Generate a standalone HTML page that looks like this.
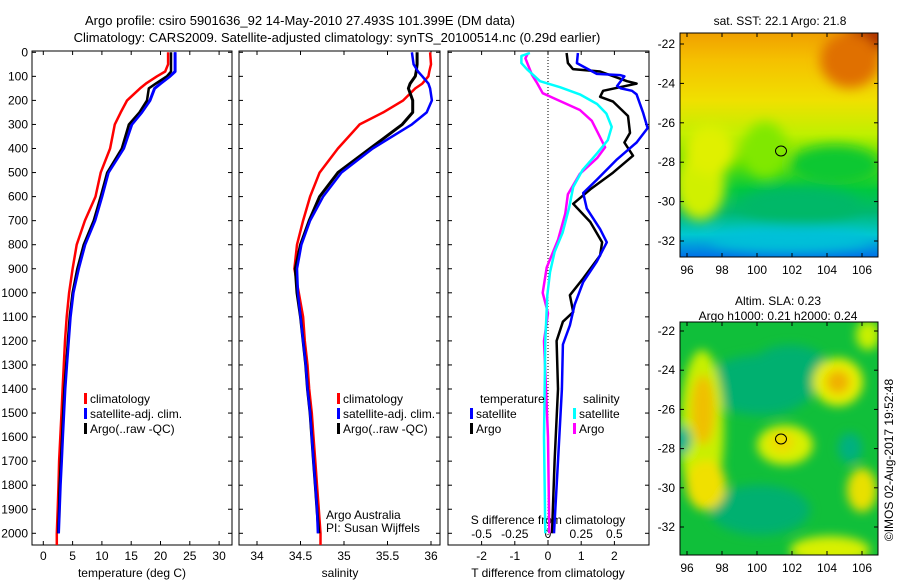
<!DOCTYPE html>
<html><head><meta charset="utf-8"><style>
body{margin:0;background:#fff;}
svg{display:block;font-family:"Liberation Sans",sans-serif;font-size:12px;}
</style></head><body>
<svg id="chart" width="900" height="580" viewBox="0 0 900 580">
<defs>
<filter id="blur1" x="-20%" y="-20%" width="140%" height="140%"><feGaussianBlur stdDeviation="6"/></filter>
<filter id="blur2" x="-20%" y="-20%" width="140%" height="140%"><feGaussianBlur stdDeviation="5"/></filter>
<clipPath id="clipTop"><rect x="680" y="33" width="198" height="224"/></clipPath>
<clipPath id="clipBot"><rect x="680" y="322" width="198" height="233"/></clipPath>
<linearGradient id="sstGrad" x1="0" y1="0" x2="0" y2="1">
<stop offset="0" stop-color="#f0a000"/><stop offset="0.12" stop-color="#f5c000"/>
<stop offset="0.3" stop-color="#f0e000"/><stop offset="0.45" stop-color="#c0f000"/>
<stop offset="0.58" stop-color="#60e000"/><stop offset="0.7" stop-color="#00c840"/>
<stop offset="0.8" stop-color="#00b870"/><stop offset="0.9" stop-color="#00c8d0"/>
<stop offset="1" stop-color="#0070e8"/>
</linearGradient>
</defs>
<g id="titles">
<text x="300" y="25" text-anchor="middle" font-size="13">Argo profile: csiro 5901636_92 14-May-2010 27.493S 101.399E (DM data)</text>
<text x="337" y="42" text-anchor="middle" font-size="13">Climatology: CARS2009. Satellite-adjusted climatology: synTS_20100514.nc (0.29d earlier)</text>
</g>
<g id="panels"></g>

<g>
<g clip-path="url(#clipTop)">
<rect x="680" y="33" width="198" height="224" fill="url(#sstGrad)"/>
<g filter="url(#blur1)">
<ellipse cx="865" cy="40" rx="22" ry="16" fill="#a01000"/>
<ellipse cx="850" cy="60" rx="30" ry="28" fill="#e07000"/>
<ellipse cx="700" cy="185" rx="25" ry="35" fill="#d0f000"/>
<ellipse cx="710" cy="150" rx="25" ry="25" fill="#e0f000"/>
<ellipse cx="765" cy="150" rx="22" ry="28" fill="#80e800"/>
<ellipse cx="835" cy="165" rx="45" ry="20" fill="#10c830"/>
<ellipse cx="800" cy="205" rx="60" ry="18" fill="#00b868"/>
<ellipse cx="790" cy="240" rx="80" ry="12" fill="#00c0d8"/>
</g>
</g>
<rect x="680" y="33" width="198" height="224" fill="none" stroke="#000"/>
<ellipse cx="781" cy="151" rx="5.5" ry="5" fill="none" stroke="#000"/>
<text x="780" y="25" text-anchor="middle">sat. SST: 22.1 Argo: 21.8</text>
</g>

<g>
<g clip-path="url(#clipBot)">
<rect x="680" y="322" width="198" height="233" fill="#10bf3a"/>
<g filter="url(#blur2)">
<ellipse cx="760" cy="385" rx="55" ry="30" fill="#00b070"/>
<ellipse cx="790" cy="370" rx="40" ry="25" fill="#00b070"/>
<ellipse cx="760" cy="510" rx="50" ry="25" fill="#00b070"/>
<ellipse cx="702" cy="430" rx="22" ry="80" fill="#c8f000"/>
<ellipse cx="703" cy="410" rx="12" ry="35" fill="#f0c000"/>
<ellipse cx="706" cy="485" rx="20" ry="25" fill="#f0e000"/>
<ellipse cx="682" cy="440" rx="9" ry="14" fill="#00b090"/>
<ellipse cx="838" cy="382" rx="25" ry="24" fill="#e8f000"/>
<ellipse cx="838" cy="382" rx="12" ry="12" fill="#f0b000"/>
<ellipse cx="785" cy="445" rx="28" ry="20" fill="#d8f000"/>
<ellipse cx="782" cy="442" rx="12" ry="10" fill="#f0d800"/>
<ellipse cx="862" cy="490" rx="15" ry="22" fill="#e8e000"/>
<ellipse cx="830" cy="550" rx="40" ry="14" fill="#d8f000"/>
<ellipse cx="850" cy="448" rx="12" ry="15" fill="#00b080"/>
<ellipse cx="868" cy="335" rx="12" ry="15" fill="#c8f000"/>
</g>
</g>
<rect x="680" y="322" width="198" height="233" fill="none" stroke="#000"/>
<ellipse cx="781" cy="439" rx="5.5" ry="5" fill="none" stroke="#000"/>
<text x="778" y="305" text-anchor="middle">Altim. SLA: 0.23</text>
<text x="778" y="320" text-anchor="middle">Argo h1000: 0.21 h2000: 0.24</text>
</g>
<g id="maplabels"></g>
<text transform="translate(893,460) rotate(-90)" text-anchor="middle">©IMOS 02-Aug-2017 19:52:48</text>
</svg>
<script>
// ---------- data ----------
const tempDepth = [0,50,80,100,130,150,200,250,300,400,500,600,700,800,900,1000,1100,1200,1300,1400,1500,1600,1700,1800,1900,2000];
const tempClim = [21.3,21.3,20.8,19.4,17.5,16.5,14.3,13.2,12.2,11.4,9.8,8.9,7.1,5.7,5.0,4.4,4.0,3.7,3.5,3.3,3.1,2.9,2.7,2.6,2.45,2.3];
const tempSat = [22.5,22.5,22.5,21.6,20.0,19.0,18.2,16.8,15.1,13.7,11.1,10.0,8.8,7.1,6.0,5.1,4.6,4.3,4.0,3.7,3.5,3.3,3.1,2.9,2.75,2.6];
const tempArgo = [21.8,21.8,21.8,21.1,19.2,18.0,17.7,16.4,14.6,13.4,10.9,9.8,8.6,6.9,5.8,5.0,4.5,4.2,3.9,3.6,3.4,3.2,3.0,2.8,2.7,2.55];
const salClim = [35.99,36.0,35.98,35.97,35.9,35.82,35.68,35.45,35.18,34.93,34.72,34.61,34.53,34.46,34.43,34.48,34.53,34.55,34.58,34.60,34.63,34.65,34.67,34.69,34.71,34.73];
const salSat = [35.78,35.8,35.85,35.9,35.97,35.99,36.01,35.95,35.78,35.33,34.97,34.76,34.61,34.51,34.46,34.47,34.50,34.53,34.56,34.58,34.61,34.63,34.65,34.67,34.69,34.70];
const salArgo = [35.84,35.84,35.83,35.82,35.76,35.74,35.79,35.79,35.67,35.3,34.93,34.72,34.6,34.5,34.44,34.46,34.5,34.53,34.56,34.58,34.61,34.63,34.65,34.67,34.69,34.71];
const dTArgoDepth = [3,45,70,80,120,130,160,185,205,265,335,375,430,500,570,630,705,790,845,940,1010,1080,1120,1200,1400,1700,2000];
const dTArgo = [0.56,0.6,0.75,1.57,2.38,2.67,1.66,1.57,1.96,2.41,2.47,2.3,2.56,1.96,1.27,0.76,1.27,1.63,1.57,1.06,0.66,0.76,0.45,0.26,0.3,0.2,0.12];
const dTSatDepth = [3,45,90,95,100,140,150,160,175,250,315,375,445,530,585,650,735,790,870,955,1050,1135,1215,1400,1700,2000];
const dTSat = [0.9,0.87,1.47,2.17,2.3,2.08,2.2,2.53,2.67,2.86,3.0,2.67,2.08,1.47,1.06,1.17,1.57,1.77,1.47,1.06,0.8,0.66,0.45,0.42,0.3,0.18];
const dSSatDepth = [3,15,45,70,120,145,175,215,255,310,365,420,490,560,645,750,830,915,1010,1200,1600,2000];
const dSSat = [-0.136,-0.2,-0.2,-0.16,-0.06,0.09,0.24,0.37,0.44,0.48,0.45,0.37,0.26,0.19,0.16,0.11,0.05,0.015,-0.005,-0.02,-0.03,-0.02];
const dSArgoDepth = [3,25,95,125,170,190,215,240,285,340,395,440,505,590,670,780,895,1000,1085,1200,1600,2000];
const dSArgo = [-0.15,-0.17,-0.12,-0.085,-0.04,0.04,0.14,0.24,0.33,0.38,0.43,0.37,0.24,0.15,0.13,0.075,-0.01,-0.04,0,-0.03,0.0,0.01];
const depthTicks = [0,100,200,300,400,500,600,700,800,900,1000,1100,1200,1300,1400,1500,1600,1700,1800,1900,2000];
const tempTicks = [0,5,10,15,20,25,30];
const salTicks = [34,34.5,35,35.5,36];
const salTickLabels = ["34","34.5","35","35.5","36"];
const dTTicks = [-2,-1,0,1,2];
const dSTicks = [-0.5,-0.25,0,0.25,0.5];
const dSTickLabels = ["-0.5","-0.25","0","0.25","0.5"];
const latTicks = [-22,-24,-26,-28,-30,-32];
const lonTicks = [96,98,100,102,104,106];

// ---------- scales ----------
const NS = "http://www.w3.org/2000/svg";
const yD = d => 52.3 + d * 0.2405;
const xT = t => 43.3 + t * 5.86;
const xS = s => 257 + (s - 34) * 87;
const xDT = t => 548 + t * 33.2;
const xDS = s => 548 + s * 132.8;
const PT = 51, PB = 545;
const panelsG = document.getElementById('panels');

function mk(tag, attrs, parent) {
  const e = document.createElementNS(NS, tag);
  for (const k in attrs) e.setAttribute(k, attrs[k]);
  (parent || panelsG).appendChild(e);
  return e;
}
function line(xs, ds, xf, color, w, name, extendBottom) {
  let pts = xs.map((v, i) => xf(v).toFixed(1) + ',' + yD(ds[i]).toFixed(1));
  if (extendBottom) pts.push(xf(xs[xs.length-1]).toFixed(1) + ',' + PB);
  const p = mk('polyline', {points: pts.join(' '), fill: 'none', stroke: color, 'stroke-width': w, 'stroke-linejoin': 'round'});
  
  
}
function frame(x0, x1, name) {
  const r = mk('rect', {x: x0, y: PT, width: x1 - x0, height: PB - PT, fill: 'none', stroke: '#000'});
  
  
  depthTicks.forEach(d => {
    mk('line', {x1: x0, x2: x0 + 4, y1: yD(d), y2: yD(d), stroke: '#000'});
    mk('line', {x1: x1, x2: x1 - 4, y1: yD(d), y2: yD(d), stroke: '#000'});
  });
}
function xticks(vals, labels, xf, x0, x1, ty, name, inner) {
  vals.forEach((v, i) => {
    const x = xf(v);
    if (x < x0 || x > x1) return;
    if (!inner) {
      mk('line', {x1: x, x2: x, y1: PB, y2: PB - 4, stroke: '#000'});
      mk('line', {x1: x, x2: x, y1: PT, y2: PT + 4, stroke: '#000'});
    }
    const t = mk('text', {x: x, y: ty, 'text-anchor': 'middle'});
    t.textContent = labels[i];
    
    
  });
}
function legendItem(x, y, color, label) {
  mk('rect', {x: x, y: y - 10, width: 3, height: 11, fill: color});
  const t = mk('text', {x: x + 6, y: y});
  t.textContent = label;
  
  
}
function text(x, y, s, name, anchor) {
  const t = mk('text', {x: x, y: y, 'text-anchor': anchor || 'start'});
  t.textContent = s;
  
  
}

// ---------- panel 1: temperature ----------
frame(32, 232, 'temperature-panel');
depthTicks.forEach(d => text(28, yD(d) + 4, String(d), 'depth-tick-label', 'end'));
xticks(tempTicks, tempTicks.map(String), xT, 32, 232, 560, 'temperature-tick-label');
text(132, 577, 'temperature (deg C)', 'temperature-axis-title', 'middle');
line(tempClim, tempDepth, xT, '#ff0000', 2.5, 'temp-climatology-line', true);
line(tempSat, tempDepth, xT, '#0000ff', 3, 'temp-satellite-line', false);
line(tempArgo, tempDepth, xT, '#000000', 2.5, 'temp-argo-line', false);
line(tempSat, tempDepth, xT, '#0000ff', 2, 'temp-satellite-line-top', false);
legendItem(84, 403, '#ff0000', 'climatology');
legendItem(84, 418, '#0000ff', 'satellite-adj. clim.');
legendItem(84, 433, '#000000', 'Argo(..raw -QC)');

// ---------- panel 2: salinity ----------
frame(239, 440, 'salinity-panel');
xticks(salTicks, salTickLabels, xS, 239, 440, 560, 'salinity-tick-label');
text(340, 577, 'salinity', 'salinity-axis-title', 'middle');
line(salClim, tempDepth, xS, '#ff0000', 2.5, 'sal-climatology-line', true);
line(salArgo, tempDepth, xS, '#000000', 3, 'sal-argo-line', false);
line(salSat, tempDepth, xS, '#0000ff', 2.5, 'sal-satellite-line', false);
legendItem(337, 403, '#ff0000', 'climatology');
legendItem(337, 418, '#0000ff', 'satellite-adj. clim.');
legendItem(337, 433, '#000000', 'Argo(..raw -QC)');
text(326, 519, 'Argo Australia', 'credit-argo-australia');
text(326, 532, 'PI: Susan Wijffels', 'credit-pi');

// ---------- panel 3: differences ----------
frame(448, 649, 'difference-panel');
mk('line', {x1: xDT(0), x2: xDT(0), y1: PT, y2: PB, stroke: '#000', 'stroke-dasharray': '1,2'});
xticks(dTTicks, dTTicks.map(String), xDT, 448, 649, 560, 'tdiff-tick-label');
xticks(dSTicks, dSTickLabels, xDS, 448, 649, 538, 'sdiff-tick-label', true);
text(548, 524, 'S difference from climatology', 'sdiff-axis-title', 'middle');
text(548, 577, 'T difference from climatology', 'tdiff-axis-title', 'middle');
line(dSArgo, dSArgoDepth, xDS, '#ff00ff', 2.5, 'sdiff-argo-line', false);
line(dSSat, dSSatDepth, xDS, '#00ffff', 2.5, 'sdiff-satellite-line', false);
line(dTArgo, dTArgoDepth, xDT, '#000000', 2.5, 'tdiff-argo-line', false);
line(dTSat, dTSatDepth, xDT, '#0000ff', 2.5, 'tdiff-satellite-line', false);
text(480, 403, 'temperature', 'legend-temperature-heading');
legendItem(470, 418, '#0000ff', 'satellite');
legendItem(470, 433, '#000000', 'Argo');
text(583, 403, 'salinity', 'legend-salinity-heading');
legendItem(573, 418, '#00ffff', 'satellite');
legendItem(573, 433, '#ff00ff', 'Argo');

// ---------- map labels ----------
const mg = document.getElementById('maplabels');
const xLon = l => 687 + (l - 96) * 17.5;
const yLatT = l => 44 + (-22 - l) * 19.7;
const yLatB = l => 331 + (-22 - l) * 19.6;
latTicks.forEach(l => {
  [[yLatT, 'sst'], [yLatB, 'sla']].forEach(([f, n]) => {
    const y = f(l);
    mk('line', {x1: 680, x2: 684, y1: y, y2: y, stroke: '#000'}, mg);
    mk('line', {x1: 878, x2: 874, y1: y, y2: y, stroke: '#000'}, mg);
    const t = mk('text', {x: 675, y: y + 4, 'text-anchor': 'end'}, mg);
    t.textContent = String(l);
    
    
  });
});
lonTicks.forEach(l => {
  [[257, 33, 274, 'sst'], [555, 322, 572, 'sla']].forEach(([b, tp, ty, n]) => {
    const x = xLon(l);
    mk('line', {x1: x, x2: x, y1: b, y2: b - 4, stroke: '#000'}, mg);
    mk('line', {x1: x, x2: x, y1: tp, y2: tp + 4, stroke: '#000'}, mg);
    const t = mk('text', {x: x, y: ty, 'text-anchor': 'middle'}, mg);
    t.textContent = String(l);
    
    
  });
});
</script>
</body></html>
